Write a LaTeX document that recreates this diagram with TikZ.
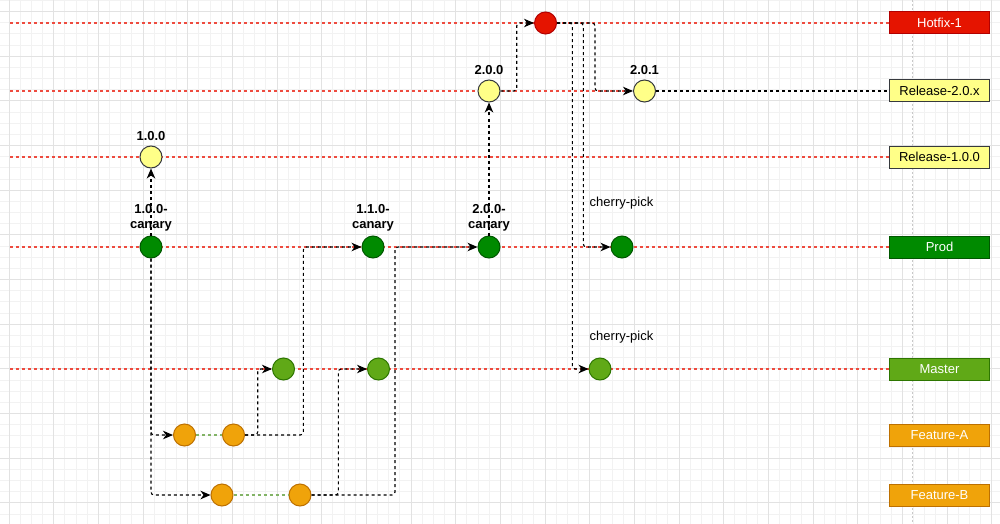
\documentclass[tikz,border=0pt]{standalone}
\usepackage{fontspec}
\setmainfont{Liberation Sans}
\usetikzlibrary{arrows.meta,backgrounds}

\definecolor{hotfixRed}{HTML}{E51400}
\definecolor{hotfixLine}{HTML}{B20000}
\definecolor{releaseYellow}{HTML}{FFFF88}
\definecolor{releaseLine}{HTML}{36393D}
\definecolor{prodGreen}{HTML}{008A00}
\definecolor{prodLine}{HTML}{005700}
\definecolor{masterGreen}{HTML}{60A917}
\definecolor{masterLine}{HTML}{2D7600}
\definecolor{featureOrange}{HTML}{F0A30A}
\definecolor{featureLine}{HTML}{BD7000}
\definecolor{laneRed}{HTML}{EE4B3F}
\definecolor{featureGreen}{HTML}{82B366}
\definecolor{gridMinor}{HTML}{F2F2F2}
\definecolor{gridMajor}{HTML}{E2E2E2}
\definecolor{guideGray}{HTML}{C8C8C8}

\begin{document}
\begin{tikzpicture}[
    x=1pt, y=-1pt,
    every node/.style={font=\fontsize{13}{15.5}\selectfont},
    commit/.style={draw, circle, line width=1pt, minimum size=22pt, inner sep=0pt},
    branch/.style={draw, rectangle, line width=1pt, minimum width=100pt, minimum height=22pt, inner sep=0pt},
    tag/.style={font=\bfseries\fontsize{13}{15.5}\selectfont, align=center},
    lane/.style={draw=laneRed, line width=1.5pt, dash pattern=on 3pt off 3pt},
    flow/.style={draw=black, line width=1.1pt, dash pattern=on 3pt off 3pt, rounded corners=3pt, -{Stealth[length=10pt,width=8.5pt,inset=3pt]}},
    plainflow/.style={draw=black, line width=1.1pt, dash pattern=on 3pt off 3pt},
    featureflow/.style={draw=featureGreen, line width=1.1pt, dash pattern=on 3pt off 3pt}
    ]
    \useasboundingbox (0,0) rectangle (1000,524);

    % Grid
    \begin{scope}[on background layer]
        \fill[white] (0,0) rectangle (1000,524);
        \clip (0,0) rectangle (1000,524);
        \foreach \i in {0,...,89}
            \draw[gridMinor, line width=0.8pt] ({9+\i*11.1667},0) -- ({9+\i*11.1667},524);
        \foreach \j in {-1,...,46}
            \draw[gridMinor, line width=0.8pt] (0,{11.5+\j*11.1667}) -- (1000,{11.5+\j*11.1667});
        \foreach \i in {0,...,22}
            \draw[gridMajor, line width=0.8pt] ({9+\i*44.6667},0) -- ({9+\i*44.6667},524);
        \foreach \j in {0,...,11}
            \draw[gridMajor, line width=0.8pt] (0,{11.5+\j*44.6667}) -- (1000,{11.5+\j*44.6667});
        \draw[guideGray, line width=1pt, dash pattern=on 2pt off 2pt] (912,0) -- (912,524);
    \end{scope}

    % Branches
    \node[branch, fill=hotfixRed, draw=hotfixLine, text=white] (hotfixBranch) at (939.5,23) {Hotfix-1};
    \node[branch, fill=releaseYellow, draw=releaseLine] (release2Branch) at (939.5,91) {Release-2.0.x};
    \node[branch, fill=releaseYellow, draw=releaseLine] (release1Branch) at (939.5,157) {Release-1.0.0};
    \node[branch, fill=prodGreen, draw=prodLine, text=white] (prodBranch) at (939.5,247) {Prod};
    \node[branch, fill=masterGreen, draw=masterLine, text=white] (masterBranch) at (939.5,369) {Master};
    \node[branch, fill=featureOrange, draw=featureLine, text=white] (featureABranch) at (939.5,435) {Feature-A};
    \node[branch, fill=featureOrange, draw=featureLine, text=white] (featureBBranch) at (939.5,495) {Feature-B};

    % Lanes
    \coordinate (hotfixStart) at (10,23);
    \coordinate (release2Start) at (10,91);
    \coordinate (release2End) at (633.5,91);
    \coordinate (release1Start) at (10,157);
    \coordinate (prodStart) at (10,247);
    \coordinate (masterStart) at (10,369);
    \draw[lane] (hotfixStart) -- (hotfixBranch);
    \draw[lane] (release2Start) -- (release2End);
    \draw[lane] (release1Start) -- (release1Branch);
    \draw[lane] (prodStart) -- (prodBranch);
    \draw[lane] (masterStart) -- (masterBranch);

    % Commits
    \node[commit, fill=hotfixRed, draw=hotfixLine] (hotfix) at (545.5,23) {};
    \node[commit, fill=releaseYellow, draw=releaseLine] (release200) at (489,91) {};
    \node[commit, fill=releaseYellow, draw=releaseLine] (release201) at (644.5,91) {};
    \node[commit, fill=releaseYellow, draw=releaseLine] (release100) at (151,157) {};
    \node[commit, fill=prodGreen, draw=prodLine] (canary100) at (151,247) {};
    \node[commit, fill=prodGreen, draw=prodLine] (canary110) at (373,247) {};
    \node[commit, fill=prodGreen, draw=prodLine] (canary200) at (489,247) {};
    \node[commit, fill=prodGreen, draw=prodLine] (prodPick) at (622,247) {};
    \node[commit, fill=masterGreen, draw=masterLine] (master1) at (283.5,369) {};
    \node[commit, fill=masterGreen, draw=masterLine] (master2) at (378.5,369) {};
    \node[commit, fill=masterGreen, draw=masterLine] (masterPick) at (600,369) {};
    \node[commit, fill=featureOrange, draw=featureLine] (featureA1) at (184.5,435) {};
    \node[commit, fill=featureOrange, draw=featureLine] (featureA2) at (233.5,435) {};
    \node[commit, fill=featureOrange, draw=featureLine] (featureB1) at (222,495) {};
    \node[commit, fill=featureOrange, draw=featureLine] (featureB2) at (300,495) {};

    % Tags
    \node[tag] (tag200) at (489,70) {2.0.0};
    \node[tag] (tag201) at (644.5,70) {2.0.1};
    \node[tag] (tag100) at (151,136.5) {1.0.0};
    \node[tag] (tagCanary100) at (151,218) {1.0.0-\\canary};
    \node[tag] (tagCanary110) at (373,218) {1.1.0-\\canary};
    \node[tag] (tagCanary200) at (489,218) {2.0.0-\\canary};
    \node (pickProd) at (621.5,203.5) {cherry-pick};
    \node (pickMaster) at (621.5,337) {cherry-pick};

    % Arrows
    \draw[flow] (canary100) -- (release100);
    \draw[flow] (canary100) |- (featureA1);
    \draw[flow] (canary100) |- (featureB1);
    \draw[featureflow] (featureA1) -- (featureA2);
    \draw[featureflow] (featureB1) -- (featureB2);
    \draw[flow] (featureA2) -- (257.7,435) |- (master1);
    \draw[flow] (featureA2) -- (303.3,435) |- (canary110);
    \draw[flow] (featureB2) -- (338.3,495) |- (master2);
    \draw[flow] (featureB2) -- (395,495) |- (canary200);
    \draw[flow] (canary200) -- (release200);
    \draw[flow] (release200) -- (516.7,91) |- (hotfix);
    \draw[flow] (hotfix) -- (595,23) |- (release201);
    \draw[flow] (hotfix) -- (583.3,23) |- (prodPick);
    \draw[flow] (hotfix) -- (572.3,23) |- (masterPick);
    \draw[plainflow] (release201) -- (release2Branch);

\end{tikzpicture}
\end{document}
